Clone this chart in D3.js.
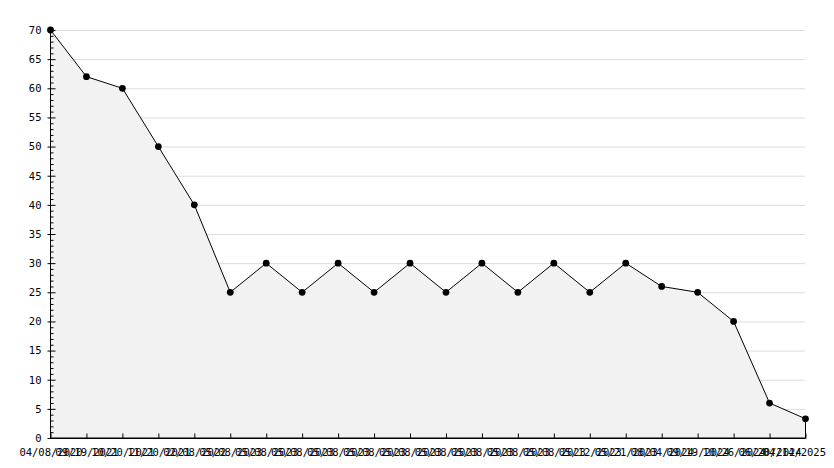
<!DOCTYPE html>
<html lang="en">
<head>
    <meta charset="UTF-8">
    <title>Line chart</title>
    <script src="https://d3js.org/d3.v7.min.js"></script>
    <style>
        body { margin: 0; background: #fff; }
        svg text { font-family: 'DejaVu Sans Mono', monospace; font-size: 10.5px; fill: #000; }
    </style>
</head>
<body>
    <svg width="834" height="468"></svg>
    <script>
        // data
        const dates = ["04/08/2020", "09/19/2021", "10/20/2021", "11/20/2021", "02/08/2022",
            "05/08/2023", "05/08/2023", "05/08/2023", "05/08/2023", "05/08/2023", "05/08/2023",
            "05/08/2023", "05/08/2023", "05/08/2023", "05/08/2023", "05/12/2023", "05/21/2023",
            "08/04/2024", "09/19/2024", "10/26/2024", "06/20/2024", "04/14/2025"];
        const values = [70, 62, 60, 50, 40, 25, 30, 25, 30, 25, 30, 25, 30, 25, 30, 25, 30, 26, 25, 20, 6, 3.3];
        const yTicks = [0, 5, 10, 15, 20, 25, 30, 35, 40, 45, 50, 55, 60, 65, 70];

        const margin = { top: 30, right: 29, bottom: 30, left: 50 },
            width = 834 - margin.left - margin.right,
            height = 468 - margin.top - margin.bottom;

        const svg = d3.select("svg")
            .append("g")
            .attr("transform", `translate(${margin.left},${margin.top})`);

        const x = d3.scalePoint()
            .domain(d3.range(dates.length))
            .range([0, width]);

        const y = d3.scaleLinear()
            .domain([0, 70])
            .range([height, 0]);

        // gridlines
        svg.append("g")
            .selectAll("line")
            .data(yTicks.filter(d => d > 0))
            .join("line")
            .attr("x1", 0).attr("x2", width)
            .attr("y1", d => y(d) + 0.5).attr("y2", d => y(d) + 0.5)
            .attr("stroke", "#dcdcdc");

        const data = values.map((v, i) => ({ i, v }));

        const area = d3.area()
            .x(d => x(d.i) + 0.5)
            .y0(height)
            .y1(d => y(d.v));

        svg.append("path")
            .datum(data)
            .attr("d", area)
            .attr("fill", "#f2f2f2")
            .attr("stroke", "#000");

        // y axis with minor ticks inside
        const yAxis = svg.append("g").attr("transform", "translate(0.5,0)");
        yAxis.call(d3.axisLeft(y).tickValues(yTicks).tickSize(-5).tickPadding(9).tickFormat(d3.format("d")))
            .call(g => g.select(".domain").attr("d", `M0,0V${height}`));
        yAxis.append("g")
            .selectAll("line")
            .data(d3.range(0, 71).filter(d => d % 5 !== 0))
            .join("line")
            .attr("x1", 0).attr("x2", 3)
            .attr("y1", d => y(d) + 0.5).attr("y2", d => y(d) + 0.5)
            .attr("stroke", "#000");
        yAxis.selectAll(".tick line").attr("x1", -3);

        // x axis, ticks pointing up
        const xAxis = svg.append("g").attr("transform", `translate(0.5,${height + 0.5})`);
        xAxis.call(d3.axisBottom(x).tickSize(-5).tickPadding(10).tickFormat(i => dates[i]))
            .call(g => g.select(".domain").attr("d", `M0,0H${width}`));
        xAxis.selectAll(".tick text")
            .filter((d, i, n) => i === n.length - 1)
            .attr("text-anchor", "end")
            .attr("dx", "20");

        // markers
        svg.append("g")
            .selectAll("path")
            .data(data)
            .join("path")
            .attr("transform", d => `translate(${x(d.i) + 0.5},${y(d.v)})`)
            .attr("d", d3.symbol(d3.symbolCircle, 36))
            .attr("fill", "#000");
    </script>
</body>
</html>
